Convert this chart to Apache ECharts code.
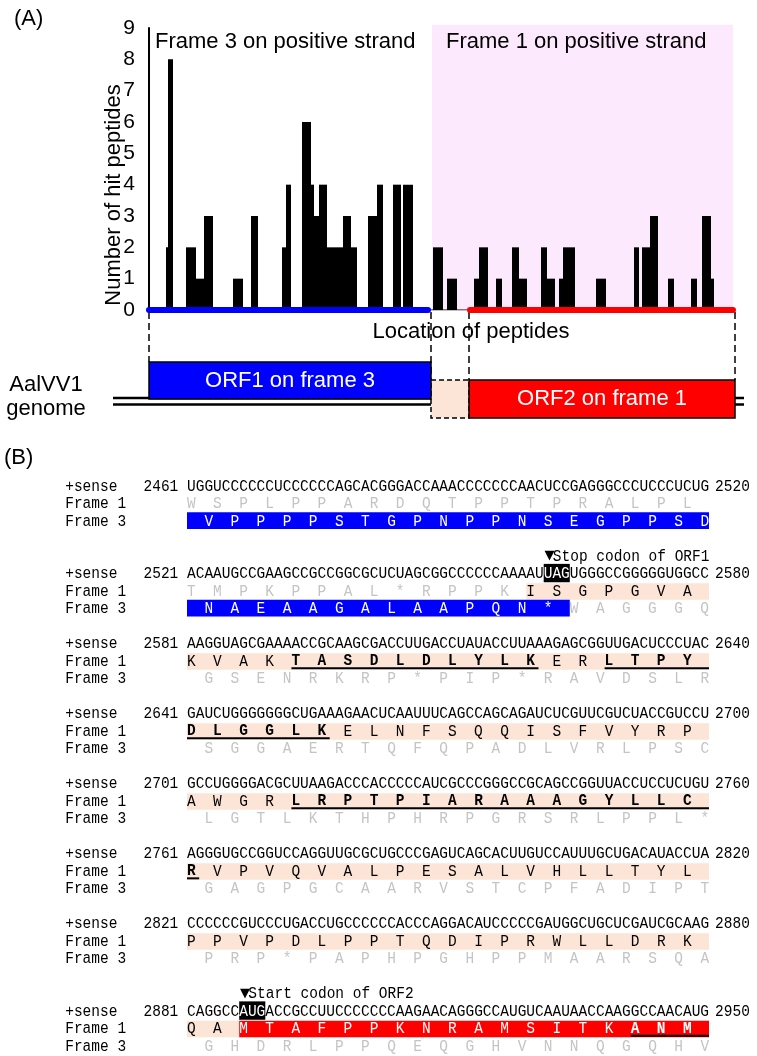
<!DOCTYPE html>
<html><head><meta charset="utf-8">
<script src="https://cdn.jsdelivr.net/npm/echarts@6/dist/echarts.min.js"></script>
<style>html,body{margin:0;padding:0;background:#fff}#c{width:757px;height:1056px}</style>
</head><body><div id="c"></div>
<script>
// ================= Panel A data =================
const yTicks = [0,1,2,3,4,5,6,7,8,9];
// peptide-hit segments along the genome location axis (location units)
const hitStart = [17,19,37,47,55,84,102,133,137,153,162,165,170,178,194,202,219,228,244,254,
                  284,298,325,330,347,363,370,392,398,410,414,447,485,493,501,519,542,553,562];
const hitEnd   = [19,24,47,55,64,94,109,137,142,162,165,170,178,194,202,208,228,234,252,264,
                  294,308,330,339,353,370,378,398,406,414,426,457,490,501,509,525,548,562,565];
const hitCount = [2,8,2,1,3,1,3,2,4,6,4,3,4,2,3,2,3,4,4,4,
                  2,1,1,2,1,2,1,2,1,1,2,1,2,2,3,1,1,3,1];
const frameLabels = ['Frame 3 on positive strand','Frame 1 on positive strand'];
const frameStrandStart = [0, 321];
const frameStrandEnd = [279, 584];
const frame1Region = [283, 584];
const orfNames = ['ORF1 on frame 3','ORF2 on frame 1'];
const orfFrame = [3, 1];
const orfStart = [0, 320];
const orfEnd = [282, 586];
const genomeLabel = ['AalVV1','genome'];
const xAxisTitle = 'Location of peptides';
const yAxisTitle = 'Number of hit peptides';

// ================= Panel B data =================
const blockStarts = [2461,2521,2581,2641,2701,2761,2821,2881];
const blockEnds   = [2520,2580,2640,2700,2760,2820,2880,2950];
const senseSeq = [
 'UGGUCCCCCCUCCCCCCAGCACGGGACCAAACCCCCCCAACUCCGAGGGCCCUCCCUCUG',
 'ACAAUGCCGAAGCCGCCGGCGCUCUAGCGGCCCCCCAAAAUUAGUGGGCCGGGGGUGGCC',
 'AAGGUAGCGAAAACCGCAAGCGACCUUGACCUAUACCUUAAAGAGCGGUUGACUCCCUAC',
 'GAUCUGGGGGGGCUGAAAGAACUCAAUUUCAGCCAGCAGAUCUCGUUCGUCUACCGUCCU',
 'GCCUGGGGACGCUUAAGACCCACCCCCAUCGCCCGGGCCGCAGCCGGUUACCUCCUCUGU',
 'AGGGUGCCGGUCCAGGUUGCGCUGCCCGAGUCAGCACUUGUCCAUUUGCUGACAUACCUA',
 'CCCCCCGUCCCUGACCUGCCCCCCACCCAGGACAUCCCCCGAUGGCUGCUCGAUCGCAAG',
 'CAGGCCAUGACCGCCUUCCCCCCCAAGAACAGGGCCAUGUCAAUAACCAAGGCCAACAUG'
];
const frame1AA = [
 'WSPLPPARDQTPPTPRALPL','TMPKPPAL*RPPKISGPGVA','KVAKTASDLDLYLKERLTPY','DLGGLKELNFSQQISFVYRP',
 'AWGRLRPTPIARAAAGYLLC','RVPVQVALPESALVHLLTYL','PPVPDLPPTQDIPRWLLDRK','QAMTAFPPKNRAMSITKANM'
];
const frame3AA = [
 'VPPPPSTGPNPPNSEGPPSD','NAEAAGALAAPQN*WAGGGQ','GSENRKRP*PIP*RAVDSLR','SGGAERTQFQPADLVRLPSC',
 'LGTLKTHPHRPGRSRLPPL*','GAGPGCAARVSTCPFADIPT','PRP*PAPHPGHPPMAARSQA','GHDRLPPQEQGHVNNQGQHV'
];
const peptides = ['TASDLDLYLK','LTPYDLGGLK','LRPTPIARAAAGYLLCR','ANM'];
const orf1ShownStart = 2461;   // ORF1 (frame 3) region shown
const orf1StopCodon = [2562, 2564];
const frame1ShadeStart = 2560;
const orf2StartCodon = [2887, 2889];
const codonNotes = ['Stop codon of ORF1','Start codon of ORF2'];
const rowNames = ['+sense','Frame 1','Frame 3'];

// ================= styling =================
const MONO = "'Liberation Mono','DejaVu Sans Mono',monospace";
const SANS = "'Liberation Sans',Arial,sans-serif";
const BLUE = '#0000ff', RED = '#ff0000', PEACH = '#fce4d6', PINK = '#fde9fd', GREY = '#c4c4c4';
const MONO_SIZE = 14.5;

// ---------- build panel B layout items ----------
const lineOf = b => 4*b + (b>=1?1:0) + (b>=7?1:0);
const F1 = frame1AA.join('');
const pepAA = new Set(); const pepRanges = [];
peptides.forEach(p => { const s = F1.indexOf(p); pepRanges.push([s, s+p.length-1]); for (let a=s;a<s+p.length;a++) pepAA.add(a); });
const codonBoxes = [orf1StopCodon, orf2StartCodon];

const textSegs = [], rects = [], ulines = [];
function pushSegs(list, line, letters, offset, styleOf){
  let cur = null;
  for (let k=0;k<letters.length;k++){
    const st = styleOf(k);
    if (cur && cur.st === st) cur.text += '  ' + letters[k];
    else { cur = {i: offset+3*k, line, text: letters[k], st}; list.push(cur); }
  }
}
blockStarts.forEach((start, b) => {
  const L = lineOf(b);
  // sense row
  textSegs.push({i:-14, line:L, text:rowNames[0], st:'n'});
  textSegs.push({i:-5, line:L, text:String(start), st:'n'});
  textSegs.push({i:60.7, line:L, text:String(blockEnds[b]), st:'n'});
  let cur = null;
  for (let i=0;i<60;i++){
    const pos = start+i;
    const st = codonBoxes.some(c => pos>=c[0] && pos<=c[1]) ? 'w' : 'n';
    if (cur && cur.st === st) cur.text += senseSeq[b][i];
    else { cur = {i, line:L, text:senseSeq[b][i], st}; textSegs.push(cur); }
  }
  codonBoxes.forEach((c, ci) => {
    const i0 = c[0]-start;
    if (i0 >= 0 && i0 < 60) {
      rects.push({i0, i1: i0+3, line: L, color:'#000', h0:-0.55, h1:0.5});
      textSegs.push({i:i0+0.1, line:L-1, text:'\u25BC', st:'tri'});
      textSegs.push({i:i0+1.05, line:L-1, text:codonNotes[ci], st:'n'});
    }
  });
  // frame 1 row
  textSegs.push({i:-14, line:L+1, text:rowNames[1], st:'n'});
  pushSegs(textSegs, L+1, frame1AA[b], 0, k => {
    const pos = start+3*k, a = b*20+k, pep = pepAA.has(a);
    if (pos < frame1ShadeStart) return 'g';
    if (pos < orf2StartCodon[0]) return pep ? 'b' : 'n';
    return pep ? 'wb' : 'w';
  });
  let p0 = Math.max(frame1ShadeStart, start), p1 = Math.min(orf2StartCodon[0], start+60);
  if (p1 > p0) rects.push({i0:p0-start, i1:p1-start, line:L+1, color:PEACH, h0:-0.45, h1:0.5});
  p0 = Math.max(orf2StartCodon[0], start);
  if (p0 < start+60) rects.push({i0:p0-start, i1:60, line:L+1, color:RED, h0:-0.45, h1:0.5});
  // frame 3 row
  textSegs.push({i:-14, line:L+2, text:rowNames[2], st:'n'});
  pushSegs(textSegs, L+2, frame3AA[b], 2, k => (start+3*k+2 <= orf1StopCodon[0]) ? 'w' : 'g');
  p0 = Math.max(orf1ShownStart, start); p1 = Math.min(orf1StopCodon[1]+1, start+60);
  if (p1 > p0) rects.push({i0:p0-start, i1:p1-start, line:L+2, color:BLUE, h0:-0.5, h1:0.45});
});
pepRanges.forEach(([s,e]) => {
  const bs = Math.floor(s/20), be = Math.floor(e/20);
  for (let b=bs;b<=be;b++){
    const k0 = b===bs ? s%20 : 0, k1 = b===be ? e%20 : 19;
    const i0 = b===bs ? 3*k0 : 0;
    const i1 = (b===be && k1<19) ? 3*k1+1.4 : 60;
    ulines.push({i0, i1, line: lineOf(b)+1});
  }
});

const segStyle = {
  n:  {fill:'#000', fontWeight:'normal'},
  g:  {fill:GREY, fontWeight:'normal'},
  w:  {fill:'#fff', fontWeight:'normal'},
  b:  {fill:'#000', fontWeight:'bold'},
  wb: {fill:'#fff', fontWeight:'bold'},
  tri:{fill:'#000', fontWeight:'normal'}
};

const chart = echarts.init(document.getElementById('c'), null, {renderer:'canvas', width:757, height:1056});

const option = {
  backgroundColor: '#fff',
  animation: false,
  grid: [
    {left:149, top:28, width:586, height:282, outerBoundsMode:'none', containLabel:false},
    {left:149, top:310, width:586, height:120, outerBoundsMode:'none', containLabel:false},
    {left:187, top:451, width:522, height:595, outerBoundsMode:'none', containLabel:false}
  ],
  xAxis: [
    {gridIndex:0, type:'value', min:0, max:586, show:false},
    {gridIndex:1, type:'value', min:0, max:586, show:false},
    {gridIndex:2, type:'value', min:0, max:60, show:false}
  ],
  yAxis: [
    {gridIndex:0, type:'value', min:yTicks[0], max:yTicks[yTicks.length-1], interval:1,
     axisLine:{show:true, lineStyle:{color:'#000', width:2}}, axisTick:{show:false}, splitLine:{show:false},
     axisLabel:{color:'#000', fontSize:21, fontFamily:SANS, margin:14}},
    {gridIndex:1, type:'value', min:0, max:120, inverse:true, show:false},
    {gridIndex:2, type:'value', min:-2, max:32, inverse:true, show:false}
  ],
  graphic: [
    {type:'text', left:14, top:8, style:{text:'(A)', font:'22px '+SANS, fill:'#000'}},
    {type:'text', left:4, top:447, style:{text:'(B)', font:'22px '+SANS, fill:'#000'}},
    {type:'text', x:114, y:195, rotation:Math.PI/2, style:{text:yAxisTitle, font:'22px '+SANS, fill:'#000', align:'center', verticalAlign:'middle'}},
    {type:'text', x:155, y:42, style:{text:frameLabels[0], font:'22px '+SANS, fill:'#000', align:'left', verticalAlign:'middle'}, z:20},
    {type:'text', x:446, y:42, style:{text:frameLabels[1], font:'22px '+SANS, fill:'#000', align:'left', verticalAlign:'middle'}, z:20},
    {type:'text', x:471, y:332, style:{text:xAxisTitle, font:'22px '+SANS, fill:'#000', align:'center', verticalAlign:'middle'}, z:20},
    {type:'text', x:46, y:385, style:{text:genomeLabel[0], font:'22px '+SANS, fill:'#000', align:'center', verticalAlign:'middle'}},
    {type:'text', x:46, y:409, style:{text:genomeLabel[1], font:'22px '+SANS, fill:'#000', align:'center', verticalAlign:'middle'}}
  ],
  series: [
    // pink frame-1 region
    {type:'custom', xAxisIndex:0, yAxisIndex:0, z:1, silent:true,
     data:[[frame1Region[0], frame1Region[1]]],
     renderItem:(params, api) => {
       const a = api.coord([api.value(0), 9.1]), c = api.coord([api.value(1), 0]);
       return {type:'rect', shape:{x:a[0], y:a[1], width:c[0]-a[0], height:c[1]-a[1]}, style:{fill:PINK}};
     }},
    // hit bars
    {type:'custom', xAxisIndex:0, yAxisIndex:0, z:3, silent:true,
     data: hitStart.map((s,i) => [s, hitEnd[i], hitCount[i]]),
     encode:{x:[0,1], y:2},
     renderItem:(params, api) => {
       const a = api.coord([api.value(0), api.value(2)]), c = api.coord([api.value(1), 0]);
       return {type:'rect', shape:{x:a[0], y:a[1], width:c[0]-a[0], height:c[1]-a[1]}, style:{fill:'#000'}};
     }},
    // strand lines
    {type:'line', xAxisIndex:0, yAxisIndex:0, z:5, symbol:'none', silent:true,
     data:[[frameStrandEnd[0],0],[frameStrandStart[1],0]], lineStyle:{color:'#000', width:1.2}},
    {type:'line', xAxisIndex:0, yAxisIndex:0, z:6, symbol:'none', silent:true,
     data:[[frameStrandStart[0],0],[frameStrandEnd[0],0]], lineStyle:{color:BLUE, width:6, cap:'round'}},
    {type:'line', xAxisIndex:0, yAxisIndex:0, z:6, symbol:'none', silent:true,
     data:[[frameStrandStart[1],0],[frameStrandEnd[1],0]], lineStyle:{color:RED, width:6, cap:'round'}},
    // genome diagram: dashed guides + genome double line
    {type:'custom', xAxisIndex:1, yAxisIndex:1, z:2, silent:true, clip:false,
     data:[orfStart[0], orfEnd[0], orfStart[1], orfEnd[1]].map(v => [v]),
     renderItem:(params, api) => {
       const v = api.value(0);
       const endY = (v === orfStart[0]) ? 52 : 70;
       const a = api.coord([v, 2]), c = api.coord([v, endY]);
       return {type:'line', shape:{x1:a[0], y1:a[1], x2:c[0], y2:c[1]}, style:{stroke:'#000', lineWidth:1.5, lineDash:[7,4]}};
     }},
    {type:'custom', xAxisIndex:1, yAxisIndex:1, z:2, silent:true, clip:false,
     data:[[-36, 595]],
     renderItem:(params, api) => {
       const a1 = api.coord([api.value(0), 88]), b1 = api.coord([api.value(1), 88]);
       const a2 = api.coord([api.value(0), 94.5]), b2 = api.coord([api.value(1), 94.5]);
       return {type:'group', children:[
         {type:'line', shape:{x1:a1[0], y1:a1[1], x2:b1[0], y2:b1[1]}, style:{stroke:'#000', lineWidth:2.5}},
         {type:'line', shape:{x1:a2[0], y1:a2[1], x2:b2[0], y2:b2[1]}, style:{stroke:'#000', lineWidth:2.5}}
       ]};
     }},
    // peach gap box
    {type:'custom', xAxisIndex:1, yAxisIndex:1, z:3, silent:true, clip:false,
     data:[[orfEnd[0], orfStart[1]]],
     renderItem:(params, api) => {
       const a = api.coord([api.value(0), 70]), c = api.coord([api.value(1), 108]);
       return {type:'rect', shape:{x:a[0], y:a[1], width:c[0]-a[0], height:c[1]-a[1]}, style:{fill:PEACH, stroke:'#000', lineWidth:1.5, lineDash:[5,3]}};
     }},
    // ORF boxes
    {type:'custom', xAxisIndex:1, yAxisIndex:1, z:4, silent:true, clip:false,
     data: orfStart.map((s,i) => [s, orfEnd[i], orfFrame[i], i]),
     renderItem:(params, api) => {
       const fr = api.value(2), idx = api.value(3);
       const top = fr === 3 ? 52 : 70, bot = fr === 3 ? 89 : 108;
       const a = api.coord([api.value(0), top]), c = api.coord([api.value(1), bot]);
       return {type:'group', children:[
         {type:'rect', shape:{x:a[0], y:a[1], width:c[0]-a[0], height:c[1]-a[1]}, style:{fill: fr===3?BLUE:RED, stroke:'#000', lineWidth:1.5}},
         {type:'text', x:(a[0]+c[0])/2, y:(a[1]+c[1])/2, style:{text:orfNames[idx], font:'22px '+SANS, fill:'#fff', align:'center', verticalAlign:'middle'}}
       ]};
     }},
    // panel B background bands
    {type:'custom', xAxisIndex:2, yAxisIndex:2, z:2, silent:true, clip:false,
     data: rects.map((r,i) => [r.i0, r.line, i]),
     renderItem:(params, api) => {
       const r = rects[params.dataIndex];
       const a = api.coord([r.i0, r.line + r.h0]), c = api.coord([r.i1, r.line + r.h1]);
       return {type:'rect', shape:{x:a[0], y:a[1], width:c[0]-a[0], height:c[1]-a[1]}, style:{fill:r.color}};
     }},
    // panel B text
    {type:'custom', xAxisIndex:2, yAxisIndex:2, z:5, silent:true, clip:false,
     data: textSegs.map((s,i) => [s.i, s.line, i]),
     renderItem:(params, api) => {
       const s = textSegs[params.dataIndex];
       const p = api.coord([s.i, s.line]);
       const st = segStyle[s.st];
       const tri = s.st === 'tri';
       const fam = tri ? "'DejaVu Sans',sans-serif" : MONO;
       const size = tri ? 13 : MONO_SIZE;
       return {type:'text', x:p[0], y:p[1], scaleY: tri ? 1 : 1.2,
               style:{text:s.text, fill:st.fill, font: st.fontWeight+' '+size+'px '+fam, align:'left', verticalAlign:'middle'}};
     }},
    // panel B peptide underlines
    {type:'custom', xAxisIndex:2, yAxisIndex:2, z:6, silent:true, clip:false,
     data: ulines.map((u,i) => [u.i0, u.line, i]),
     renderItem:(params, api) => {
       const u = ulines[params.dataIndex];
       const a = api.coord([u.i0, u.line + 0.42]), c = api.coord([u.i1, u.line + 0.42]);
       return {type:'line', shape:{x1:a[0], y1:a[1], x2:c[0], y2:c[1]}, style:{stroke:'#000', lineWidth:2}};
     }}
  ]
};
chart.setOption(option);
</script>
</body></html>
